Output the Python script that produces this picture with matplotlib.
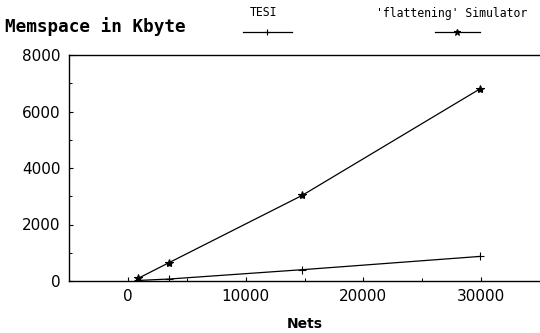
import matplotlib
matplotlib.use("Agg")
import matplotlib.pyplot as plt
from matplotlib.lines import Line2D
from matplotlib.ticker import MultipleLocator

# values
nets = [900, 3500, 14800, 29900]
flat_mem = [100, 650, 3030, 6800]   # 'flattening' Simulator
tesi_mem = [20, 70, 400, 870]       # TESI

x_ticks = [0, 10000, 20000, 30000]
y_ticks = [0, 2000, 4000, 6000, 8000]

fig = plt.figure(figsize=(5.4, 3.33), dpi=100)
ax = fig.add_axes([69 / 540, 1 - 281 / 333, 1 - 69 / 540, (281 - 55) / 333])

ax.plot(nets, flat_mem, color="black", lw=0.9, marker="*", ms=6, mew=0.8)
ax.plot(nets, tesi_mem, color="black", lw=0.9, marker="+", ms=6, mew=0.8)

ax.set_xlim(-5000, 35000)
ax.set_ylim(0, 8000)
ax.set_xticks(x_ticks)
ax.set_yticks(y_ticks)
ax.xaxis.set_minor_locator(MultipleLocator(5000))
ax.yaxis.set_minor_locator(MultipleLocator(1000))
ax.tick_params(which="major", direction="in", length=3, width=0.8, labelsize=11, pad=6)
ax.tick_params(which="minor", direction="in", length=2, width=0.7)
ax.spines["right"].set_visible(False)
for s in ("left", "top", "bottom"):
    ax.spines[s].set_linewidth(1.0)

ax.set_xlabel("Nets", fontsize=10, fontweight="bold", family="DejaVu Sans", labelpad=9)

fig.text(5 / 540, 1 - 27 / 333, "Memspace in Kbyte", fontsize=12.7, fontweight="bold",
         family="DejaVu Sans Mono", va="center", ha="left")


def legend_entry(label, label_x, x0, x1, mark_x, marker):
    # label on top, sample line with its marker below
    fig.text(label_x / 540, 1 - 13 / 333, label, fontsize=8.3, family="DejaVu Sans Mono",
             ha="center", va="center")
    y = 1 - 32 / 333
    fig.add_artist(Line2D([x0 / 540, x1 / 540], [y, y], color="black", lw=0.9,
                          transform=fig.transFigure))
    fig.add_artist(Line2D([mark_x / 540], [y], color="black", marker=marker, ms=5,
                          mew=0.8, transform=fig.transFigure))


legend_entry("TESI", 263, 243, 292, 267, "+")
legend_entry("'flattening' Simulator", 452, 435, 480, 457, "*")

fig.savefig("out.png", dpi=100)
